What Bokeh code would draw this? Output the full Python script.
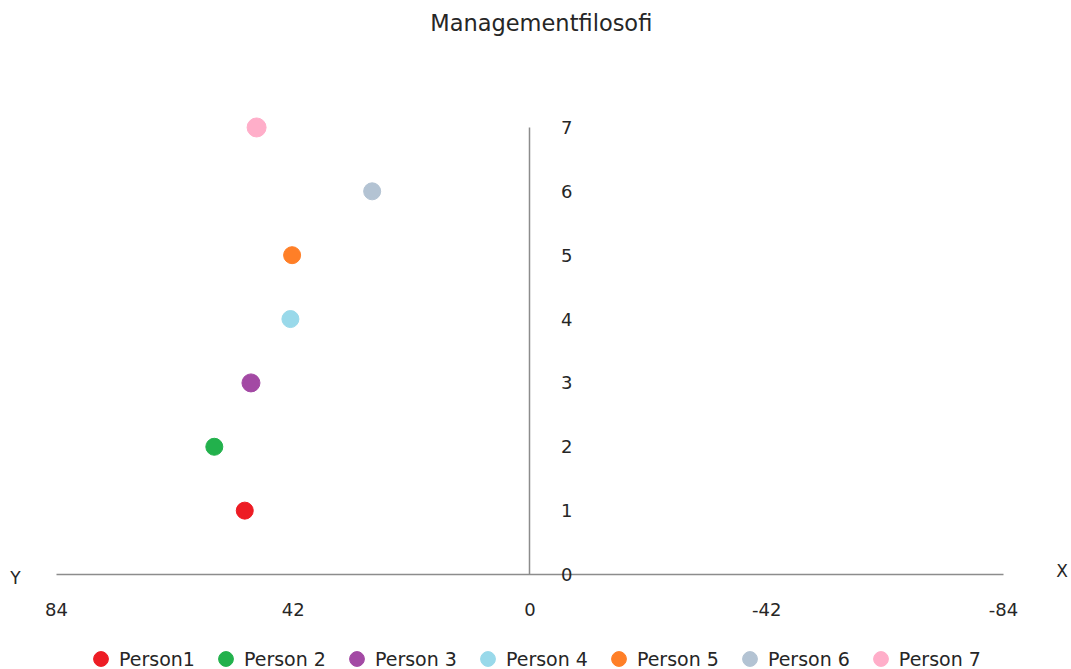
from bokeh.plotting import figure
from bokeh.models import Range1d, Label, Legend, LegendItem, FixedTicker, ColumnDataSource
from bokeh.embed import file_html
from bokeh.resources import INLINE

persons = ["Person1", "Person 2", "Person 3", "Person 4", "Person 5", "Person 6", "Person 7"]
x_values = [50.6, 56.0, 49.5, 42.5, 42.2, 28.0, 48.5]
y_values = [1, 2, 3, 4, 5, 6, 7]
colors = ["#ED1C24", "#22B14C", "#A349A4", "#99D9EA", "#FF7F27", "#B3C3D3", "#FFAEC9"]
x_ticks = [84, 42, 0, -42, -84]
y_ticks = [0, 1, 2, 3, 4, 5, 6, 7]
title_text = "Managementfilosofi"

FONT = "DejaVu Sans"
TXT = "#262626"
AX = "#8C8C8C"
marker_sizes = [17, 17, 18, 17, 17, 17, 19]

p = figure(width=1071, height=669, output_backend="svg", toolbar_location=None,
           x_range=Range1d(93.93, -96.06), y_range=Range1d(-1.4876, 8.988),
           y_axis_location="right",
           min_border_left=0, min_border_right=0, min_border_top=0, min_border_bottom=0)
p.outline_line_color = None
p.grid.visible = False
p.background_fill_color = "white"
p.border_fill_color = "white"

# x axis along y = 0
xa = p.xaxis[0]
xa.fixed_location = 0
xa.bounds = (-84, 84)
xa.ticker = FixedTicker(ticks=x_ticks)
xa.major_label_overrides = {-42: "-42", -84: "-84"}
xa.axis_line_color = AX
xa.axis_line_width = 1.5
xa.major_tick_line_color = None
xa.minor_tick_line_color = None
xa.major_label_standoff = 23
xa.major_label_text_font = FONT
xa.major_label_text_font_size = "18px"
xa.major_label_text_color = TXT

# y axis along x = 0
ya = p.yaxis[0]
ya.fixed_location = 0
ya.bounds = (0, 7)
ya.ticker = FixedTicker(ticks=y_ticks)
ya.axis_line_color = AX
ya.axis_line_width = 1.5
ya.major_tick_line_color = None
ya.minor_tick_line_color = None
ya.major_label_standoff = 25
ya.major_label_text_font = FONT
ya.major_label_text_font_size = "18px"
ya.major_label_text_color = TXT

items = []
for name, xv, yv, c, s in zip(persons, x_values, y_values, colors, marker_sizes):
    src = ColumnDataSource(dict(x=[xv], y=[yv]))
    r = p.scatter("x", "y", source=src, size=s, fill_color=c, line_color=c, marker="circle")
    items.append(LegendItem(label=name, renderers=[r]))

legend = Legend(items=items, orientation="horizontal", location=(82, -8),
                border_line_color=None, background_fill_alpha=0,
                padding=0, margin=0, spacing=12, label_standoff=-4,
                glyph_width=37, glyph_height=37,
                label_text_font=FONT, label_text_font_size="19px", label_text_color=TXT)
p.add_layout(legend, "center")

p.add_layout(Label(x=-2.0, y=8.64, text=title_text, text_align="center", text_baseline="middle",
                   text_font=FONT, text_font_size="22.5px", text_color=TXT))
p.add_layout(Label(x=91.3, y=-0.06, text="Y", text_align="center", text_baseline="middle",
                   text_font=FONT, text_font_size="17px", text_color=TXT))
p.add_layout(Label(x=-94.4, y=0.05, text="X", text_align="center", text_baseline="middle",
                   text_font=FONT, text_font_size="17px", text_color=TXT))

open("out.html", "w").write(file_html(p, INLINE))
